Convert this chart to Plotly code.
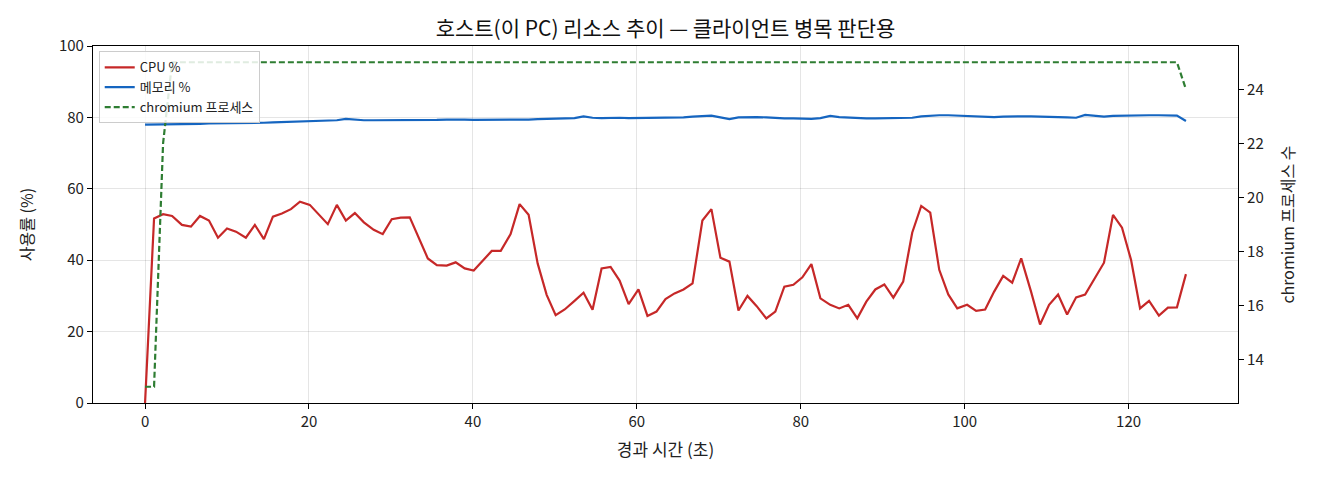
import plotly.graph_objects as go

# elapsed time (s)
t = [0.0, 1.1, 2.2, 3.3, 4.5, 5.6, 6.7, 7.8, 8.9, 10.0, 11.1, 12.3, 13.4, 14.5, 15.6, 16.7,
     17.8, 18.9, 20.1, 21.2, 22.3, 23.4, 24.5, 25.6, 26.7, 27.9, 29.0, 30.1, 31.2, 32.3,
     33.4, 34.5, 35.6, 36.8, 37.9, 39.0, 40.1, 41.2, 42.3, 43.4, 44.6, 45.7, 46.8, 47.9,
     49.0, 50.1, 51.2, 52.4, 53.5, 54.6, 55.7, 56.8, 57.9, 59.0, 60.2, 61.3, 62.4, 63.5,
     64.6, 65.7, 66.8, 68.0, 69.1, 70.2, 71.3, 72.4, 73.5, 74.6, 75.8, 76.9, 78.0, 79.1,
     80.2, 81.3, 82.4, 83.6, 84.7, 85.8, 86.9, 88.0, 89.1, 90.2, 91.3, 92.5, 93.6, 94.7,
     95.8, 96.9, 98.0, 99.1, 100.3, 101.4, 102.5, 103.6, 104.7, 105.8, 106.9, 108.1, 109.2,
     110.3, 111.4, 112.5, 113.6, 114.7, 115.9, 117.0, 118.1, 119.2, 120.3, 121.4, 122.5,
     123.7, 124.8, 125.9, 127.0]

cpu = [0.0, 51.7, 52.9, 52.4, 49.9, 49.4, 52.4, 51.1, 46.3, 48.9, 48.0, 46.3, 49.9, 45.9,
       52.2, 53.1, 54.3, 56.4, 55.5, 52.9, 50.1, 55.5, 51.1, 53.2, 50.6, 48.5, 47.3, 51.5,
       51.9, 52.0, 46.3, 40.5, 38.6, 38.5, 39.4, 37.7, 37.1, 39.9, 42.6, 42.6, 47.3, 55.7,
       52.7, 39.1, 30.3, 24.6, 26.2, 28.6, 30.9, 26.1, 37.7, 38.1, 34.3, 27.7, 31.8, 24.4,
       25.6, 29.1, 30.7, 31.8, 33.5, 51.1, 54.3, 40.7, 39.6, 25.9, 30.0, 27.2, 23.7, 25.6,
       32.6, 33.1, 35.2, 38.9, 29.3, 27.5, 26.5, 27.5, 23.7, 28.4, 31.8, 33.2, 29.5, 34.0,
       47.7, 55.2, 53.3, 37.3, 30.4, 26.5, 27.5, 25.8, 26.2, 31.2, 35.6, 33.7, 40.5, 31.2,
       22.0, 27.5, 30.4, 24.8, 29.6, 30.4, 35.2, 39.3, 52.7, 49.1, 40.1, 26.5, 28.6, 24.5,
       26.7, 26.8, 36.1]

mem = [78.0, 78.0, 78.1, 78.1, 78.2, 78.2, 78.2, 78.3, 78.3, 78.3, 78.3, 78.3, 78.4,
       78.5, 78.6, 78.7, 78.8, 78.9, 79.0, 79.1, 79.2, 79.2, 79.6, 79.3, 79.2, 79.2,
       79.2, 79.1, 79.2, 79.2, 79.1, 79.2, 79.3, 79.4, 79.5, 79.4, 79.3,
       79.3, 79.2, 79.3, 79.3, 79.4, 79.4, 79.5, 79.6, 79.7, 79.8, 79.8, 80.3,
       79.9, 79.8, 79.9, 79.9, 79.8, 79.8, 79.8, 79.8, 79.9, 79.9, 80.0, 80.2,
       80.4, 80.5, 80.0, 79.5, 80.0, 80.1, 80.1, 80.0, 79.8, 79.7, 79.7, 79.6, 79.6,
       79.8, 80.4, 80.1, 79.9, 79.8, 79.7, 79.7, 79.7, 79.7, 79.8, 79.9,
       80.3, 80.5, 80.6, 80.6, 80.5, 80.4, 80.2, 80.1, 80.1, 80.2, 80.3,
       80.3, 80.3, 80.3, 80.2, 80.1, 80.0, 79.9, 80.7, 80.4, 80.2,
       80.4, 80.5, 80.6, 80.6, 80.6, 80.6, 80.6, 80.5, 79.0]

procs = [13, 13, 22] + [25] * 111 + [24]

x_ticks = [0, 20, 40, 60, 80, 100, 120]
y_ticks = [0, 20, 40, 60, 80, 100]
y2_ticks = [14, 16, 18, 20, 22, 24]

FONT = "Noto Sans CJK KR"

fig = go.Figure()
fig.add_trace(go.Scatter(x=t, y=cpu, mode="lines", name="CPU %",
                         line=dict(color="#c62828", width=2.2)))
fig.add_trace(go.Scatter(x=t, y=mem, mode="lines", name="메모리 %",
                         line=dict(color="#1565c0", width=2.2)))
fig.add_trace(go.Scatter(x=t, y=procs, mode="lines", name="chromium 프로세스",
                         yaxis="y2", line=dict(color="#2e7d32", width=2.2, dash="6px,3px")))

axis_common = dict(showline=True, linecolor="black", linewidth=1.2, ticks="outside",
                   ticklen=5, tickcolor="black", zeroline=False,
                   tickfont=dict(size=15, color="#222"))

fig.update_layout(
    width=1320, height=480,
    paper_bgcolor="white", plot_bgcolor="white",
    margin=dict(l=85, r=90, t=38, b=85),
    font=dict(family=FONT, color="#222"),
    title=dict(text="호스트(이 PC) 리소스 추이 — 클라이언트 병목 판단용",
               x=0.5, xref="paper", xanchor="center", y=0.958, yanchor="middle",
               font=dict(size=21, family=FONT, color="#111")),
    xaxis=dict(range=[-6.35, 133.35], tickvals=x_ticks, mirror=True,
               showgrid=True, gridcolor="rgba(0,0,0,0.1)", gridwidth=1,
               title=dict(text="경과 시간 (초)", font=dict(size=17), standoff=14),
               **axis_common),
    yaxis=dict(range=[0, 100], tickvals=y_ticks,
               showgrid=True, gridcolor="rgba(0,0,0,0.1)", gridwidth=1,
               title=dict(text="사용률 (%)", font=dict(size=16), standoff=21),
               **axis_common),
    yaxis2=dict(range=[12.4, 25.6], tickvals=y2_ticks, overlaying="y", side="right",
                showgrid=False,
                title=dict(text="chromium 프로세스 수", font=dict(size=16), standoff=20),
                **axis_common),
    legend=dict(x=0.005, y=0.985, xanchor="left", yanchor="top",
                bgcolor="rgba(255,255,255,0.85)", bordercolor="#cccccc", borderwidth=1,
                font=dict(size=13), itemwidth=30, tracegroupgap=0),
    showlegend=True,
)

fig.write_html("out.html")
